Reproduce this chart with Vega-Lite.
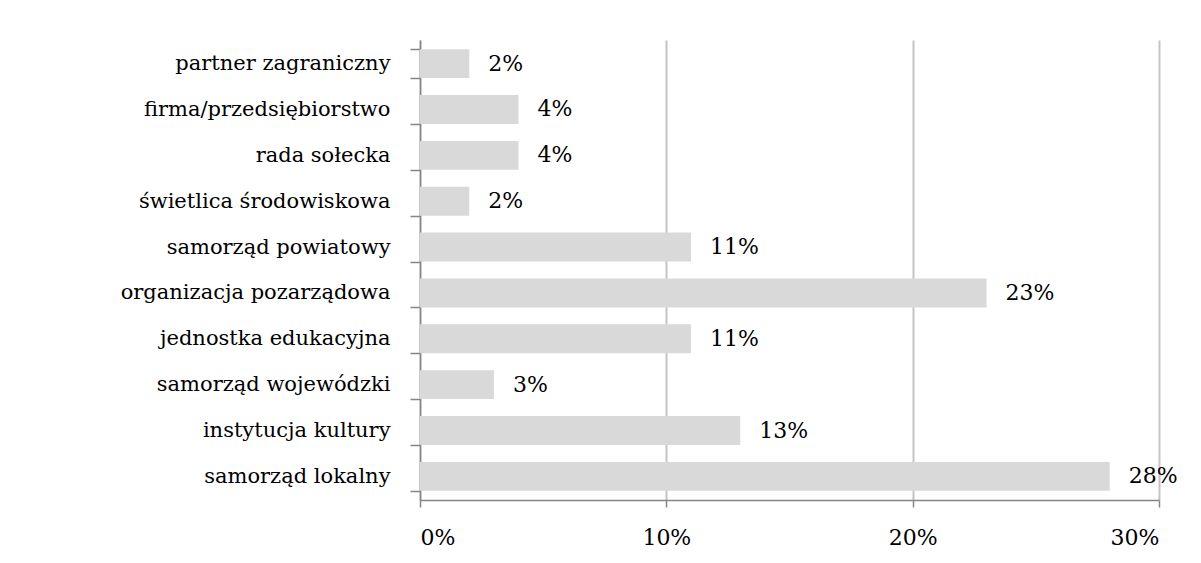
{
  "$schema": "https://vega.github.io/schema/vega-lite/v6.json",
  "autosize": {"type": "none"},
  "padding": {"left": 420, "top": 40, "right": 42, "bottom": 63},
  "width": 739,
  "height": 460,
  "background": "white",
  "data": {"values": [
    {"category": "partner zagraniczny", "value": 0.02},
    {"category": "firma/przedsiębiorstwo", "value": 0.04},
    {"category": "rada sołecka", "value": 0.04},
    {"category": "świetlica środowiskowa", "value": 0.02},
    {"category": "samorząd powiatowy", "value": 0.11},
    {"category": "organizacja pozarządowa", "value": 0.23},
    {"category": "jednostka edukacyjna", "value": 0.11},
    {"category": "samorząd wojewódzki", "value": 0.03},
    {"category": "instytucja kultury", "value": 0.13},
    {"category": "samorząd lokalny", "value": 0.28}
  ]},
  "config": {
    "view": {"stroke": null},
    "font": "DejaVu Serif"
  },
  "encoding": {
    "y": {
      "field": "category", "type": "nominal", "sort": null, "title": null,
      "scale": {"paddingInner": 0.37, "paddingOuter": 0.2},
      "axis": {
        "domainColor": "#868686", "domainWidth": 1.5,
        "tickColor": "#868686", "tickWidth": 1.5, "tickSize": 10, "tickBand": "extent",
        "labelFont": "DejaVu Serif", "labelFontSize": 21, "labelColor": "black",
        "labelPadding": 20, "labelLimit": 0, "grid": false
      }
    },
    "x": {
      "field": "value", "type": "quantitative", "title": null,
      "scale": {"domain": [0, 0.3], "nice": false},
      "axis": {
        "values": [0, 0.1, 0.2, 0.3], "format": ".0%",
        "domainColor": "#868686", "domainWidth": 1.5,
        "tickColor": "#868686", "tickWidth": 1.5, "tickSize": 7,
        "labelFont": "DejaVu Serif", "labelFontSize": 22, "labelColor": "black",
        "labelPadding": 20,
        "grid": true, "gridColor": "#c4c4c4", "gridWidth": 2
      }
    }
  },
  "layer": [
    {"mark": {"type": "bar", "color": "#d9d9d9"}},
    {
      "mark": {"type": "text", "align": "left", "dx": 19, "font": "DejaVu Serif", "fontSize": 22, "color": "black"},
      "encoding": {"text": {"field": "value", "type": "quantitative", "format": ".0%"}}
    }
  ]
}
